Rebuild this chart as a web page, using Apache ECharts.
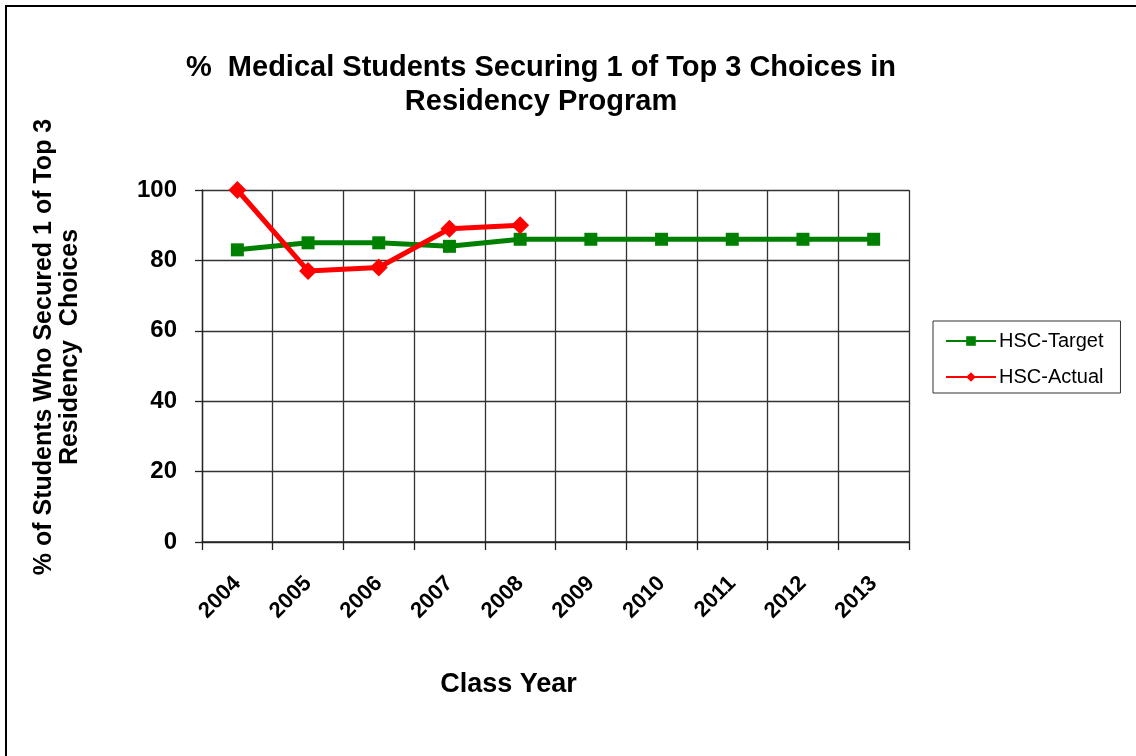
<!DOCTYPE html>
<html>
<head>
<meta charset="utf-8">
<script src="https://cdn.jsdelivr.net/npm/echarts@6/dist/echarts.min.js"></script>
<style>
  html, body { margin: 0; padding: 0; background: #fff; }
  #chart { width: 1136px; height: 756px; }
</style>
</head>
<body>
<div id="chart"></div>
<script>
  const years = ['2004', '2005', '2006', '2007', '2008', '2009', '2010', '2011', '2012', '2013']
  const hscTarget = [83, 85, 85, 84, 86, 86, 86, 86, 86, 86]
  const hscActual = [100, 77, 78, 89, 90]

  const font = 'Liberation Sans, Arial, sans-serif'
  const chart = echarts.init(document.getElementById('chart'))

  chart.setOption({
    backgroundColor: '#fff',
    animation: false,
    textStyle: { fontFamily: font },
    graphic: [
      {
        type: 'rect',
        shape: { x: 6, y: 6, width: 1200, height: 900 },
        style: { fill: 'none', stroke: '#000', lineWidth: 2 },
      },
    ],
    title: {
      text: '%  Medical Students Securing 1 of Top 3 Choices in\nResidency Program',
      left: 536,
      textAlign: 'center',
      top: 46,
      textStyle: { fontSize: 29, fontWeight: 'bold', color: '#000', lineHeight: 34, fontFamily: font },
    },
    legend: {
      orient: 'vertical',
      left: 933,
      top: 321,
      padding: [10, 17, 6, 12],
      borderColor: '#333',
      borderWidth: 1,
      itemWidth: 50,
      itemHeight: 12,
      itemGap: 16,
      textStyle: { fontSize: 20, color: '#000', fontFamily: font, padding: [0, 0, 0, -2] },
      data: ['HSC-Target', 'HSC-Actual'],
    },
    grid: { left: 202, right: 227, top: 190, bottom: 214 },
    xAxis: {
      type: 'category',
      data: years,
      boundaryGap: true,
      name: 'Class Year',
      nameLocation: 'middle',
      nameGap: 129,
      nameTextStyle: { fontSize: 27, fontWeight: 'bold', color: '#000', fontFamily: font, padding: [0, 94, 0, 0] },
      axisLine: { lineStyle: { color: '#222', width: 1.5 } },
      axisTick: { show: true, alignWithLabel: false, length: 8, lineStyle: { color: '#222', width: 1.3 } },
      axisLabel: { rotate: 45, margin: 38, fontSize: 22, fontWeight: 'bold', color: '#000', fontFamily: font, interval: 0 },
      splitLine: { show: true, interval: 0, lineStyle: { color: '#333', width: 1.3 } },
    },
    yAxis: {
      type: 'value',
      min: 0,
      max: 100,
      interval: 20,
      name: '% of Students Who Secured 1 of Top 3\nResidency  Choices',
      nameLocation: 'middle',
      nameGap: 119,
      nameRotate: 90,
      nameTextStyle: { fontSize: 25, fontWeight: 'bold', color: '#000', lineHeight: 26, fontFamily: font, padding: [0, 0, 0, 38] },
      axisLine: { show: true, lineStyle: { color: '#222', width: 1.3 } },
      axisTick: { show: true, length: 7, lineStyle: { color: '#222', width: 1.3 } },
      axisLabel: { margin: 25, fontSize: 24, fontWeight: 'bold', color: '#000', fontFamily: font },
      splitLine: { show: true, lineStyle: { color: '#333', width: 1.3 } },
    },
    series: [
      {
        name: 'HSC-Target',
        type: 'line',
        data: hscTarget,
        color: '#008000',
        symbol: 'rect',
        symbolSize: 13,
        lineStyle: { width: 5, color: '#008000' },
        itemStyle: { color: '#008000' },
        z: 2,
      },
      {
        name: 'HSC-Actual',
        type: 'line',
        data: hscActual,
        color: '#ff0000',
        symbol: 'diamond',
        symbolSize: 18,
        lineStyle: { width: 5, color: '#ff0000' },
        itemStyle: { color: '#ff0000' },
        z: 3,
      },
    ],
  })
</script>
</body>
</html>
